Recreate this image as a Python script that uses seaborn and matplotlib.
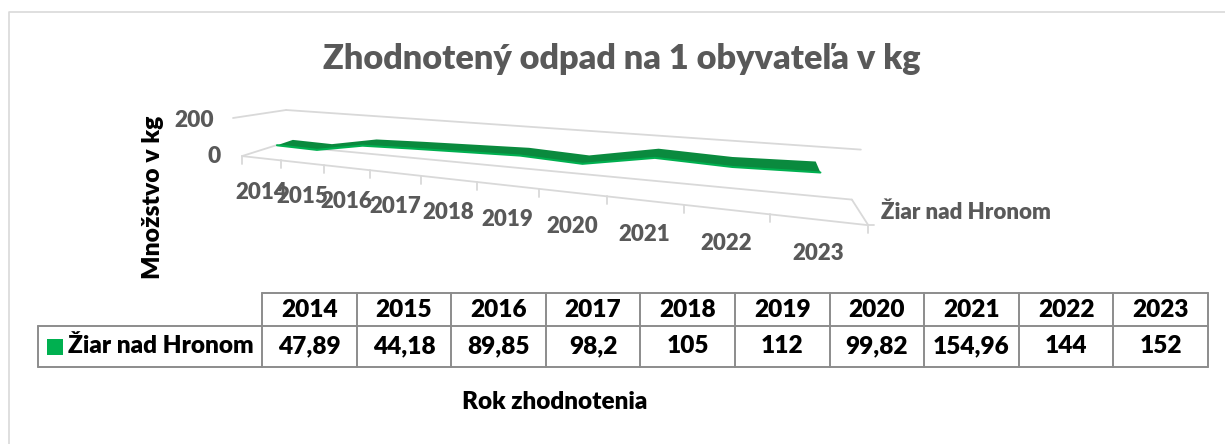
import numpy as np
import pandas as pd
import seaborn as sns
import matplotlib.pyplot as plt

years = [2014, 2015, 2016, 2017, 2018, 2019, 2020, 2021, 2022, 2023]
values = [47.89, 44.18, 89.85, 98.2, 105, 112, 99.82, 154.96, 144, 152]
value_labels = ["47,89", "44,18", "89,85", "98,2", "105", "112", "99,82", "154,96", "144", "152"]
series_name = "Žiar nad Hronom"
value_ticks = [0, 200]

GREEN = "#00b050"
DARK_GREEN = "#0a8a3e"
GRID = "#d9d9d9"
TEXT_GREY = "#595959"
TABLE = "#8c8c8c"

sns.set_theme(style="white")
plt.rcParams["font.family"] = ["Lato", "DejaVu Sans"]
plt.rcParams["font.weight"] = 800

fig = plt.figure(figsize=(12.25, 4.44), dpi=100)
ax = fig.add_axes([0, 0, 1, 1])

# the fake 3d box: floor calibrated in pixels, u goes along the years, v goes back
src = np.array([[0, 0], [5, 0], [10, 0], [0, 1], [10, 1]], float)
dst = np.array([[242, 155], [477, 182], [868, 227], [277, 146], [852, 198]], float)
A = []
for (u, v), (x, y) in zip(src, dst):
    A.append([u, v, 1, 0, 0, 0, -u * x, -v * x, -x])
    A.append([0, 0, 0, u, v, 1, -u * y, -v * y, -y])
H = np.linalg.svd(np.array(A))[2][-1].reshape(3, 3)


def project(u, v, h=0.0):
    p = H @ np.array([u, v, 1.0])
    x, y = p[0] / p[2], p[1] / p[2]
    share = h / value_ticks[-1]
    # the value axis leans a bit to the right in the picture
    return x + share * 9, y - share * (35 + (x - 277) / (852 - 277) * 15)


def edge(v):
    pts = [project(i + 0.5, v, val) for i, val in enumerate(values)]
    return pd.DataFrame(pts, columns=["x", "y"])


# walls and floor
for a, b in [((0, 0), (10, 0)), ((0, 1), (10, 1)), ((10, 0), (10, 1)), ((0, 0), (0, 1))]:
    p, q = project(*a), project(*b)
    ax.plot([p[0], q[0]], [p[1], q[1]], color=GRID, lw=1.3)
top_l, top_r = project(0, 1, 200), project(10, 1, 200)
ax.plot([top_l[0], top_r[0]], [top_l[1], top_r[1]], color=GRID, lw=1.3)
ax.plot([233, top_l[0]], [118, top_l[1]], color=GRID, lw=1.3)
for i in range(len(years) + 1):
    x, y = project(i, 0)
    ax.plot([x, x], [y, y + 8], color=GRID, lw=1.3)
x, y = project(10, 0)
ax.plot([x, x + 6], [y, y], color=GRID, lw=1.3)

# the ribbon
front = edge(0.38)
back = edge(0.85)
ax.fill(np.r_[front.x, back.x[::-1]], np.r_[front.y, back.y[::-1]], color=DARK_GREEN, lw=0, zorder=3)
sns.lineplot(data=front, x="x", y="y", sort=False, color=GREEN, lw=1.5, ax=ax, zorder=4)

# year labels below the front edge
for i, yr in enumerate(years):
    x, y = project(i + 0.5, 0)
    ax.text(x, y + 34, str(yr), color=TEXT_GREY, fontsize=16, ha="center", va="center")
for val, xpos, ypos in zip(value_ticks, [214, 194], [156, 120]):
    ax.text(xpos, ypos, str(val), color=TEXT_GREY, fontsize=16.3, ha="center", va="center")
ax.text(881, 212, series_name, color=TEXT_GREY, fontsize=16, ha="left", va="center")

ax.text(622, 59, "Zhodnotený odpad na 1 obyvateľa v kg", color=TEXT_GREY, fontsize=24.7, ha="center", va="center")
ax.text(153, 197, "Množstvo v kg", color="black", fontsize=17.7, rotation=90, ha="center", va="center")
ax.text(555, 402, "Rok zhodnotenia", color="black", fontsize=17.5, ha="center", va="center")

# data table
col_edges = np.linspace(262, 1208, len(years) + 1)
top, mid, bottom = 293, 326, 367
ax.plot([262, 1208], [top, top], color=TABLE, lw=1.4)
ax.plot([38, 1208], [mid, mid], color=TABLE, lw=1.4)
ax.plot([38, 1208], [bottom, bottom], color=TABLE, lw=1.4)
ax.plot([38, 38], [mid, bottom], color=TABLE, lw=1.4)
for xe in col_edges:
    ax.plot([xe, xe], [top, bottom], color=TABLE, lw=1.4)
for i, yr in enumerate(years):
    xc = (col_edges[i] + col_edges[i + 1]) / 2
    ax.text(xc, 317, str(yr), color="black", fontsize=17.6, ha="center", va="baseline")
    ax.text(xc, 353, value_labels[i], color="black", fontsize=17.6, ha="center", va="baseline")
ax.scatter([54.5], [346.5], marker="s", s=120, color=GREEN, lw=0)
ax.text(68, 353, series_name, color="black", fontsize=17.6, ha="left", va="baseline")

# chart border
ax.plot([9, 9, 1225], [444, 12, 12], color=GRID, lw=1.2)

ax.set_xlim(0, 1225)
ax.set_ylim(444, 0)
ax.axis("off")

fig.savefig("out.png", dpi=100)
